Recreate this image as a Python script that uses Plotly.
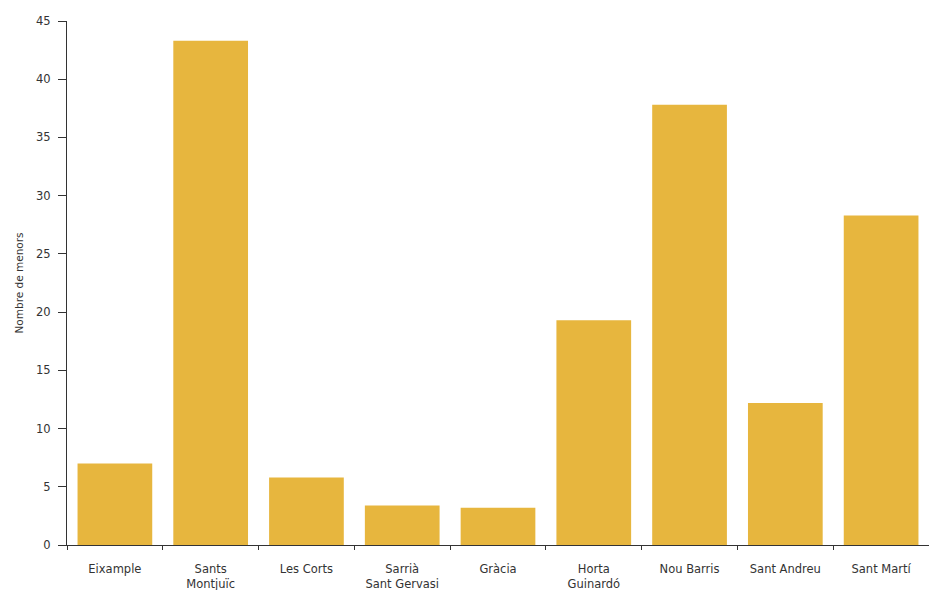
import plotly.graph_objects as go

districtes = ["Eixample", "Sants<br>Montjuïc", "Les Corts", "Sarrià<br>Sant Gervasi", "Gràcia",
              "Horta<br>Guinardó", "Nou Barris", "Sant Andreu", "Sant Martí"]
menors = [7.0, 43.3, 5.8, 3.4, 3.2, 19.3, 37.8, 12.2, 28.3]
y_ticks = [0, 5, 10, 15, 20, 25, 30, 35, 40, 45]

fig = go.Figure(go.Bar(
    x=districtes, y=menors,
    marker=dict(color="#E7B63E", line=dict(width=0)),
))

fig.update_layout(
    width=929, height=590,
    margin=dict(l=67, r=0, t=21, b=45),
    paper_bgcolor="white", plot_bgcolor="white",
    bargap=0.22,
    showlegend=False,
    font=dict(family="DejaVu Sans, sans-serif", size=11, color="#333333"),
)
fig.update_xaxes(
    showgrid=False, showline=True, linecolor="#333333", linewidth=1,
    ticks="outside", tickson="boundaries", ticklen=4, tickcolor="#333333",
    tickfont=dict(size=11.5, color="#333333"),
    ticklabelstandoff=13,
)
fig.update_yaxes(
    range=[0, 45], tickvals=y_ticks, showgrid=False, zeroline=False,
    showline=True, linecolor="#333333", linewidth=1,
    ticks="outside", ticklen=8, tickcolor="#333333",
    tickfont=dict(size=11.5, color="#333333"),
    ticklabelstandoff=5,
    title=dict(text="Nombre de menors", font=dict(size=10.5, color="#333333"), standoff=10),
)

fig.write_html("out.html")
